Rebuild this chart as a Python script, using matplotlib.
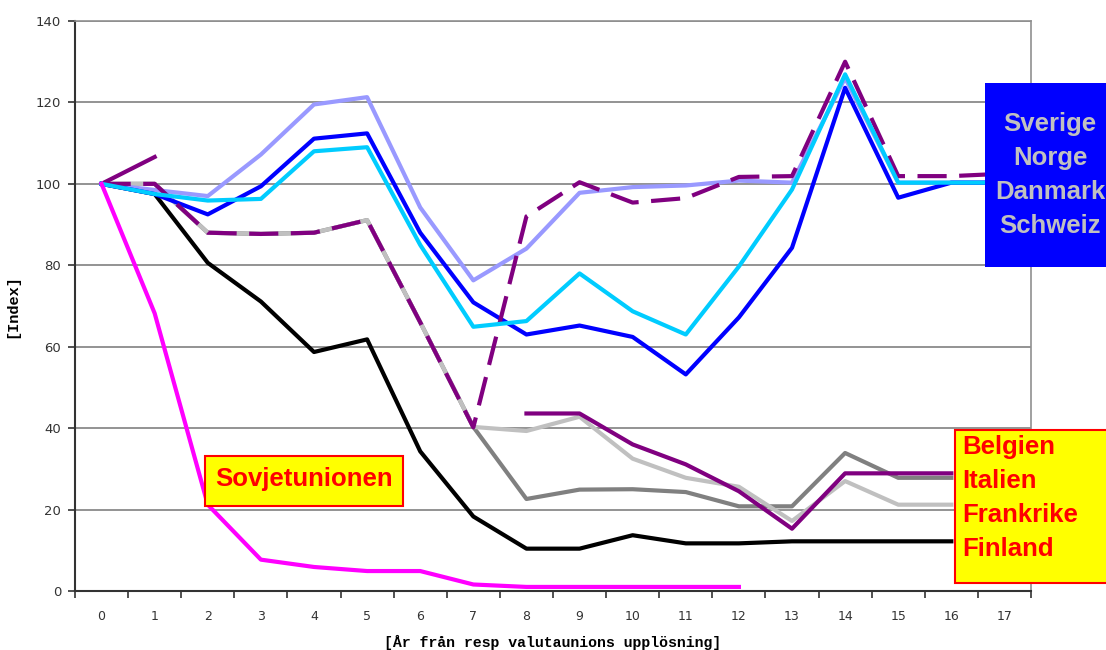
import numpy as np
import matplotlib.pyplot as plt
from matplotlib.patches import Rectangle

nan = np.nan

# x categories: years from dissolution
years = list(range(18))

# Belgien / Italien / Frankrike / Finland group
gray_dark = [100, 100, 88, 87.7, 88, 91.1, 66, 40.3, 22.6, 24.9, 25, 24.3, 20.8, 20.8, 33.9, 27.8, 27.8, nan]
gray_light = [100, 100, 88, 87.7, 88, 91.1, 66, 40.3, 39.3, 42.8, 32.5, 27.8, 25.6, 17.2, 27.0, 21.2, 21.2, nan]
black = [100, 97.5, 80.6, 71.1, 58.7, 61.8, 34.3, 18.3, 10.4, 10.4, 13.7, 11.7, 11.7, 12.2, 12.2, 12.2, 12.2, nan]
purple_solid = [100, 106.6, nan, nan, nan, nan, nan, nan, 43.6, 43.6, 36.0, 31.1, 24.5, 15.3, 28.9, 28.9, 28.9, nan]

# Sverige / Norge / Danmark / Schweiz group
lavender = [100, 98.5, 97.0, 107.2, 119.5, 121.3, 94.2, 76.3, 84.1, 97.8, 99.2, 99.6, 100.8, 100.3, 126, 100.3, 100.3, 100.3]
blue = [100, 97.5, 92.5, 99.4, 111.1, 112.4, 88.0, 70.9, 63.0, 65.2, 62.4, 53.2, 67.2, 84.3, 123.6, 96.6, 100.3, 100.3]
purple_dashed = [100, 100, 88, 87.7, 88, 91.1, 66, 40.2, 92.0, 100.4, 95.4, 96.5, 101.7, 101.9, 130, 101.9, 101.9, 102.5]
cyan = [100, 97.5, 95.9, 96.3, 108.0, 109.0, 85.0, 64.9, 66.3, 78.0, 68.7, 63.0, 79.7, 98.6, 126.9, 100.3, 100.3, 100.3]

# Sovjetunionen
magenta = [100, 68.2, 21.2, 7.7, 5.9, 4.9, 4.9, 1.6, 1.0, 1.0, 1.0, 1.0, 1.0, nan, nan, nan, nan, nan]

W, H = 1106, 650
fig = plt.figure(figsize=(W / 100, H / 100), dpi=100)
ax = fig.add_axes([75 / W, 59 / H, 956 / W, 570 / H])


def px(x, y):
    return (x / W, 1 - y / H)


lw = 3.0
ax.plot(years, gray_dark, color='#808080', lw=lw, zorder=3)
ax.plot(years, gray_light, color='#c0c0c0', lw=lw, zorder=3)
ax.plot(years, black, color='black', lw=lw, zorder=3)
ax.plot(years, purple_solid, color='#800080', lw=lw, zorder=3)
ax.plot(years, lavender, color='#9999ff', lw=lw, zorder=3)
ax.plot(years, blue, color='#0000ff', lw=lw, zorder=3)
ax.plot(years, purple_dashed, color='#800080', lw=lw, linestyle=(0, (7, 3)), zorder=3)
ax.plot(years, cyan, color='#00ccff', lw=lw, zorder=3)
ax.plot(years, magenta, color='#ff00ff', lw=lw, zorder=3)

ax.set_xlim(-0.5, 17.5)
ax.set_ylim(0, 140)
ax.set_yticks(range(0, 141, 20))
ax.yaxis.grid(True, color='#808080', lw=1.2)
ax.set_axisbelow(True)

# category axis: ticks between categories, labels at centres
ax.set_xticks(np.arange(-0.5, 18, 1))
ax.set_xticklabels([])
ax.set_xticks(years, minor=True)
ax.set_xticklabels([str(y) for y in years], minor=True, fontsize=9, color='#333333')
ax.tick_params(axis='x', which='major', length=5, width=1.2, color='#333333', direction='out')
ax.tick_params(axis='x', which='minor', length=0, pad=14)
ax.tick_params(axis='y', length=5, width=1.2, color='#333333', labelsize=9.5, labelcolor='#333333', pad=5)

for s in ['left', 'bottom']:
    ax.spines[s].set_color('#333333')
    ax.spines[s].set_linewidth(1.5)
for s in ['right', 'top']:
    ax.spines[s].set_color('#909090')
    ax.spines[s].set_linewidth(1.2)

ax.set_xlabel('[År från resp valutaunions upplösning]', fontfamily='Liberation Mono',
              fontweight='bold', fontsize=10.7, labelpad=8)
ax.set_ylabel('[Index]', fontfamily='Liberation Mono', fontweight='bold', fontsize=11, labelpad=12)

box_font = dict(fontfamily='Liberation Sans', fontweight='bold', fontsize=18.5)

# blue box
x0, y0 = px(985, 267)
fig.add_artist(Rectangle((x0, y0), 0.2, (267 - 83) / H, transform=fig.transFigure,
                         facecolor='#0000ff', edgecolor='none', zorder=5))
for i, name in enumerate(['Sverige', 'Norge', 'Danmark', 'Schweiz']):
    fig.text(*px(1050, 124 + 34 * i), name, color='#c0c0c0', ha='center', va='center',
             zorder=6, **box_font)

# yellow box right
x0, y0 = px(955, 583)
fig.add_artist(Rectangle((x0, y0), 0.2, (583 - 430) / H, transform=fig.transFigure,
                         facecolor='#ffff00', edgecolor='#ff0000', lw=1.5, zorder=5))
for i, name in enumerate(['Belgien', 'Italien', 'Frankrike', 'Finland']):
    fig.text(*px(962, 447 + 34 * i), name, color='#ff0000', ha='left', va='center',
             zorder=6, **box_font)

# Sovjetunionen box
x0, y0 = px(205, 506)
fig.add_artist(Rectangle((x0, y0), (403 - 205) / W, (506 - 456) / H, transform=fig.transFigure,
                         facecolor='#ffff00', edgecolor='#ff0000', lw=1.5, zorder=5))
fig.text(*px(304, 479), 'Sovjetunionen', color='#ff0000', ha='center', va='center',
         zorder=6, **box_font)

fig.savefig('out.png', dpi=100)
